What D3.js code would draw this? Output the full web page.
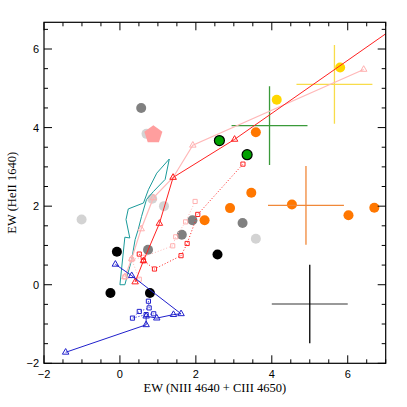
<!DOCTYPE html>
<html>
<head>
<meta charset="utf-8">
<script src="https://cdn.jsdelivr.net/npm/d3@7"></script>
<style>
  body { margin: 0; background: #fff; }
  text { font-family: "Liberation Serif", serif; }
</style>
</head>
<body>
<div id="chart"></div>
<script>
// Data.
var xTicks = [-2, 0, 2, 4, 6];
var yTicks = [-2, 0, 2, 4, 6];

var darkGray = [[0.56, 4.50], [0.74, 0.89], [1.63, 1.27], [1.91, 1.64], [3.23, 1.57]];
var lightGray = [[0.70, 3.84], [-1.01, 1.66], [0.85, 2.19], [1.16, 2.00], [3.58, 1.17]];
var blackPts = [[-0.08, 0.84], [-0.25, -0.21], [0.79, -0.21], [2.57, 0.77]];
var greenPts = [[2.62, 3.67], [3.35, 3.31]];
var orangePts = [[3.58, 3.88], [2.23, 1.64], [2.90, 1.95], [3.46, 2.34], [4.53, 2.04], [6.02, 1.77], [6.70, 1.96]];
var yellowPts = [[4.13, 4.71], [5.80, 5.53]];
var pentagon = [[0.88, 3.82]];

// error crosses: x, y, dx, dy
var crosses = [
  {x: 3.94, y: 4.05, dx: 1.0, dy: 1.0, h: "#3a9a3a", v: "#3a9a3a"},
  {x: 5.65, y: 5.10, dx: 1.0, dy: 1.0, h: "#f8dc4a", v: "#f8dc4a"},
  {x: 4.90, y: 2.02, dx: 1.0, dy: 1.0, h: "#f08838", v: "#f08838"},
  {x: 5.00, y: -0.49, dx: 1.0, dy: 1.0, h: "#777777", v: "#000000"}
];

var redTri = [[0.40, 0.07], [0.62, 0.61], [1.04, 1.56], [1.40, 2.73], [3.02, 3.70], [8.5, 7.4]];
var redSq = [[0.51, 0.78], [0.62, 0.61], [0.91, 0.40], [1.61, 0.74], [1.77, 1.05], [2.05, 1.79], [3.24, 3.07]];
var pinkTri = [[0.13, 0.20], [0.31, 0.66], [0.56, 1.42], [0.88, 2.21], [1.40, 2.73], [1.92, 3.55], [6.42, 5.48]];
var pinkSq = [[0.13, 0.20], [0.51, 0.14], [0.31, 0.64], [0.60, 0.70], [1.39, 0.99], [1.47, 1.22], [1.73, 1.60], [1.98, 2.12]];
var blueTri = [[-0.12, 0.52], [0.31, 0.23], [1.61, -0.74], [1.41, -0.76], [0.97, -0.85], [0.69, -0.80], [0.69, -1.02], [-1.43, -1.72]];
var blueSq = [[0.75, -0.42], [0.77, -0.59], [0.51, -0.68], [0.33, -0.85], [0.69, -0.76], [0.89, -0.74]];
var tealLoop = [[0.00, 0.00], [0.13, 1.21], [0.26, 1.19], [0.16, 1.66], [0.22, 1.93], [0.62, 2.08],
  [0.75, 2.42], [0.97, 2.84], [1.30, 3.20], [1.19, 2.68], [0.88, 2.37], [0.70, 2.17], [0.57, 1.74],
  [0.48, 1.40], [0.40, 1.15], [0.31, 0.64], [0.13, 0.00], [0.00, 0.00]];

var margin = {top: 22.3, right: 21.3, bottom: 43.7, left: 44},
  W = 407, H = 407;

var x = d3.scaleLinear().domain([-2, 7]).range([margin.left, W - margin.right]);
var y = d3.scaleLinear().domain([-2, 6.68]).range([H - margin.bottom, margin.top]);

var svg = d3.select("#chart").append("svg")
  .attr("width", W).attr("height", H);

svg.append("defs").append("clipPath").attr("id", "clip")
  .append("rect")
  .attr("x", x(-2)).attr("y", y(6.68))
  .attr("width", x(7) - x(-2)).attr("height", y(-2) - y(6.68));

var plot = svg.append("g").attr("clip-path", "url(#clip)");

var line = d3.line().x(function (d) { return x(d[0]); }).y(function (d) { return y(d[1]); });

function dots(data, fill, r, stroke) {
  plot.selectAll(null).data(data).enter().append("circle")
    .attr("cx", function (d) { return x(d[0]); })
    .attr("cy", function (d) { return y(d[1]); })
    .attr("r", r)
    .attr("fill", fill)
    .attr("stroke", stroke || "none")
    .attr("stroke-width", 1.2);
}

function path(data, color, dash, width) {
  plot.append("path").datum(data)
    .attr("d", line)
    .attr("fill", "none")
    .attr("stroke", color)
    .attr("stroke-width", width || 1)
    .attr("stroke-dasharray", dash || null);
}

function markers(data, color, type) {
  var sym = d3.symbol().type(type === "tri" ? d3.symbolTriangle2 : d3.symbolSquare2)
    .size(type === "tri" ? 30 : 22);
  plot.selectAll(null).data(data).enter().append("path")
    .attr("transform", function (d) { return "translate(" + x(d[0]) + "," + y(d[1]) + ")"; })
    .attr("d", sym)
    .attr("fill", "none")
    .attr("stroke", color)
    .attr("stroke-width", 1);
}

// filled circles
dots(lightGray, "#d3d3d3", 5);
dots(darkGray, "#808080", 5);
dots(blackPts, "#000", 5);
dots(orangePts, "#ff7700", 5);
dots(yellowPts, "#ffd700", 5);
dots(greenPts, "#00a000", 5, "#000");

// pentagon
var pent = d3.symbol().type(d3.symbolStar);
plot.selectAll(null).data(pentagon).enter().append("polygon")
  .attr("points", function (d) {
    var cx = x(d[0]), cy = y(d[1]), r = 9.5, pts = [];
    for (var k = 0; k < 5; k++) {
      var a = -Math.PI / 2 + k * 2 * Math.PI / 5;
      pts.push((cx + r * Math.cos(a)) + "," + (cy + r * Math.sin(a)));
    }
    return pts.join(" ");
  })
  .attr("fill", "#ff9e9e");

// error crosses
crosses.forEach(function (c) {
  plot.append("line")
    .attr("x1", x(c.x - c.dx)).attr("x2", x(c.x + c.dx))
    .attr("y1", y(c.y)).attr("y2", y(c.y))
    .attr("stroke", c.h).attr("stroke-width", 1.3);
  plot.append("line")
    .attr("x1", x(c.x)).attr("x2", x(c.x))
    .attr("y1", y(c.y - c.dy)).attr("y2", y(c.y + c.dy))
    .attr("stroke", c.v).attr("stroke-width", 1.3);
});

// teal contour
path(tealLoop, "#1a9a9a", null, 1);

// tracks
path(pinkTri, "#ffb8b8", null, 1.2);
markers(pinkTri, "#ffb0b0", "tri");
path(pinkSq, "#ffb8b8", "1,2", 1);
markers(pinkSq, "#ffb0b0", "sq");

path(redSq, "#ff2020", "1,2", 1);
markers(redSq, "#ff2020", "sq");
path(redTri, "#ff2020", null, 1);
markers(redTri, "#ff2020", "tri");

path(blueSq, "#2020cc", "1,2", 1);
markers(blueSq, "#2020cc", "sq");
path(blueTri, "#2020cc", null, 1);
markers(blueTri, "#2020cc", "tri");

// frame and ticks
var fx0 = x(-2), fx1 = x(7), fy0 = y(6.68), fy1 = y(-2);
svg.append("rect")
  .attr("x", fx0).attr("y", fy0).attr("width", fx1 - fx0).attr("height", fy1 - fy0)
  .attr("fill", "none").attr("stroke", "#000").attr("stroke-width", 1.2);

var ticks = svg.append("g").attr("stroke", "#000").attr("stroke-width", 1);
d3.range(-2, 7.01, 0.5).forEach(function (v) {
  var len = (v % 2 === 0) ? 8 : 4;
  ticks.append("line").attr("x1", x(v)).attr("x2", x(v)).attr("y1", fy1).attr("y2", fy1 - len);
  ticks.append("line").attr("x1", x(v)).attr("x2", x(v)).attr("y1", fy0).attr("y2", fy0 + len);
});
d3.range(-2, 6.68, 0.5).forEach(function (v) {
  var len = (v % 2 === 0) ? 8 : 4;
  ticks.append("line").attr("y1", y(v)).attr("y2", y(v)).attr("x1", fx0).attr("x2", fx0 + len);
  ticks.append("line").attr("y1", y(v)).attr("y2", y(v)).attr("x1", fx1).attr("x2", fx1 - len);
});

function fmt(v) { return v < 0 ? "\u2212" + Math.abs(v) : String(v); }

svg.selectAll(".xt").data(xTicks).enter().append("text")
  .attr("x", function (d) { return x(d); })
  .attr("y", fy1 + 15)
  .attr("text-anchor", "middle")
  .style("font-family", "'Liberation Sans', sans-serif")
  .style("font-size", "11px")
  .text(fmt);

svg.selectAll(".yt").data(yTicks).enter().append("text")
  .attr("x", fx0 - 5)
  .attr("y", function (d) { return y(d) + 4; })
  .attr("text-anchor", "end")
  .style("font-family", "'Liberation Sans', sans-serif")
  .style("font-size", "11px")
  .text(fmt);

svg.append("text")
  .attr("x", (fx0 + fx1) / 2)
  .attr("y", 392)
  .attr("text-anchor", "middle")
  .style("font-size", "12.5px")
  .text("EW (NIII 4640 + CIII 4650)");

svg.append("text")
  .attr("transform", "translate(16," + ((fy0 + fy1) / 2) + ") rotate(-90)")
  .attr("text-anchor", "middle")
  .style("font-size", "12.5px")
  .text("EW (HeII 1640)");
</script>
</body>
</html>
